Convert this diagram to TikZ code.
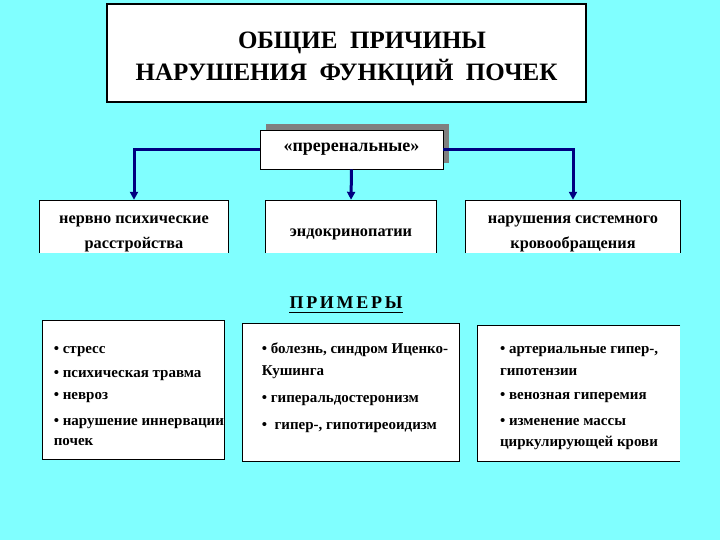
\documentclass[tikz,border=0pt]{standalone}
\usepackage{fontspec}
\setmainfont{Liberation Serif}
\usetikzlibrary{arrows.meta, positioning, shadows}
\definecolor{slidebg}{HTML}{80FFFF}
\definecolor{navyline}{HTML}{000080}

\begin{document}
\begin{tikzpicture}[x=1pt, y=-1pt,
    headbox/.style={rectangle, draw=black, fill=white, line width=1.2pt, align=center, font=\fontsize{25}{32}\selectfont\bfseries},
    causebox/.style={rectangle, fill=white, inner sep=0pt, align=center, font=\fontsize{16.3}{25}\selectfont\bfseries},
    examplebox/.style={rectangle, draw=black, fill=white, line width=0.8pt, inner sep=0pt},
    listtext/.style={anchor=west, align=left, inner sep=0pt, font=\fontsize{15}{20}\selectfont\bfseries},
    conn/.style={-{Triangle[length=8pt, width=8pt]}, line width=3pt, navyline, shorten >=1pt}]
\fill[slidebg] (0,0) rectangle (720,540);
\useasboundingbox (0,0) rectangle (720,540);
% title
\node[headbox, minimum width=479pt, minimum height=98pt] (title) at (346.5,53)
    {\rule{0pt}{28pt}\hspace{31pt}ОБЩИЕ\ \ ПРИЧИНЫ\\НАРУШЕНИЯ\ \ ФУНКЦИЙ\ \ ПОЧЕК};
% prerenal box with shadow
\node[rectangle, draw=black, fill=white, line width=0.8pt, minimum width=183pt, minimum height=39pt,
    font=\fontsize{18}{20}\selectfont\bfseries,
    drop shadow={shadow xshift=6pt, shadow yshift=6pt, fill=gray, opacity=1}] (prerenal) at (351.5,149.5) {«преренальные»};
% causes
\node[causebox, minimum width=188pt, minimum height=66pt] (nerv) at (134,234) {нервно психические\\расстройства};
\node[causebox, minimum width=170pt, minimum height=66pt] (endo) at (351,234) {эндокринопатии};
\node[causebox, minimum width=214pt, minimum height=66pt] (circ) at (573,234) {нарушения системного\\кровообращения};
\foreach \n in {nerv,endo,circ} {
    \fill[slidebg] ([yshift=14pt]\n.south west) rectangle ([xshift=1pt, yshift=-1pt]\n.south east);
    \draw[line width=0.8pt] ([yshift=14pt]\n.south west) |- (\n.north east) -- ([yshift=14pt]\n.south east);
}
% connectors
\draw[conn] (prerenal.west) -| (nerv.north);
\draw[conn] (prerenal.south) -- (endo.north);
\draw[conn] (prerenal.east) -| (circ.north);
% examples
\node[font=\fontsize{18}{18}\selectfont\bfseries, inner sep=0pt] (examples) at (346,303)
    {П\hspace{2.7pt}Р\hspace{2.7pt}И\hspace{2.7pt}М\hspace{2.7pt}Е\hspace{2.7pt}Р\hspace{2.7pt}Ы};
\draw[line width=1.2pt] ([yshift=-3.5pt]examples.south west) -- ([yshift=-3.5pt]examples.south east);
\node[examplebox, minimum width=182pt, minimum height=139pt] (exA) at (133,389.5) {};
\node[examplebox, minimum width=217pt, minimum height=138pt] (exB) at (350.5,392) {};
\node[rectangle, fill=white, minimum width=202pt, minimum height=135pt] (exC) at (579,393.5) {};
\draw[line width=0.8pt] (exC.north east) -- (exC.north west) -- (exC.south west) -- (exC.south east);
\node[listtext] (listA) at ([xshift=12pt, yshift=-6.5pt]exA.west)
    {• стресс\\[4pt]• психическая травма\\[2pt]• невроз\\[6pt]• нарушение иннервации\\почек};
\node[listtext] (listB) at ([xshift=20pt, yshift=4pt]exB.west)
    {• болезнь, синдром Иценко-\\[2pt]Кушинга\\[7pt]• гиперальдостеронизм\\[7pt]•\ \ гипер-, гипотиреоидизм};
\node[listtext] (listC) at ([xshift=22pt, yshift=-5pt]exC.west)
    {• артериальные гипер-,\\[2pt]гипотензии\\[4pt]• венозная гиперемия\\[6pt]• изменение массы\\[1pt]циркулирующей крови};
\end{tikzpicture}
\end{document}
